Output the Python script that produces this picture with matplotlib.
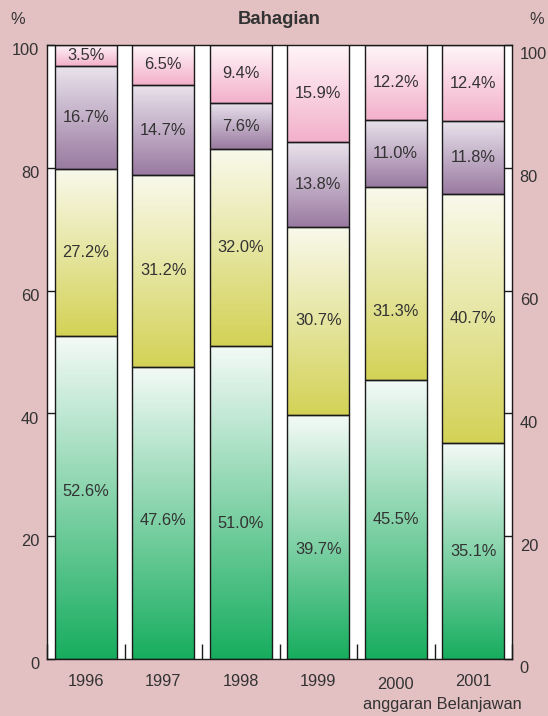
import numpy as np
import matplotlib
matplotlib.use("Agg")
import matplotlib.pyplot as plt
from matplotlib.colors import LinearSegmentedColormap
from matplotlib.transforms import ScaledTranslation

plt.rcParams['font.family'] = ['Liberation Sans', 'DejaVu Sans']

years = ["1996", "1997", "1998", "1999", "2000", "2001"]
# shares, bottom segment first
green = [52.6, 47.6, 51.0, 39.7, 45.5, 35.1]
yellow = [27.2, 31.2, 32.0, 30.7, 31.3, 40.7]
purple = [16.7, 14.7, 7.6, 13.8, 11.0, 11.8]
pink = [3.5, 6.5, 9.4, 15.9, 12.2, 12.4]

# nudges for a few labels that sit below the middle of their segment
label_nudge = {(1, 0): -1.3, (2, 0): -3.4, (3, 0): -2.0, (4, 1): -4.5, (0, 0): 0.9}

bg = "#E3C0C1"
txt = "#333333"
seg_colors = [("#17AD5E", "#F4FAF7"),
              ("#D3D256", "#F9F9EC"),
              ("#9A7AA1", "#E9E3EC"),
              ("#F3B0CA", "#FFF6F9")]

fig = plt.figure(figsize=(5.48, 7.16), dpi=100, facecolor=bg)
ax = fig.add_axes([47 / 548, 1 - 659 / 716, 465 / 548, 614 / 716])
ax.set_facecolor("white")

x = np.arange(len(years))
width = 0.8
series = [green, yellow, purple, pink]
grad = np.linspace(0, 1, 256).reshape(-1, 1)

bottom = np.zeros(len(years))
for k, vals in enumerate(series):
    vals = np.array(vals)
    cmap = LinearSegmentedColormap.from_list("c%d" % k, seg_colors[k])
    for i in range(len(years)):
        ax.imshow(grad, cmap=cmap, origin="lower", aspect="auto",
                  extent=(x[i] - width / 2, x[i] + width / 2, bottom[i], bottom[i] + vals[i]),
                  zorder=1, interpolation="bilinear")
        mid = bottom[i] + vals[i] / 2 + label_nudge.get((i, k), 0)
        ax.text(x[i], mid, "%.1f%%" % vals[i], ha="center", va="center",
                fontsize=11.8, color=txt, zorder=3)
    ax.bar(x, vals, width, bottom=bottom, facecolor="none", edgecolor="#1a1a1a",
           linewidth=1.0, zorder=2)
    bottom += vals

ax.set_xlim(-0.5, len(years) - 0.5)
ax.set_ylim(0, 100)

# ticks at group boundaries, labels placed by hand
ax.set_xticks(np.arange(len(years) + 1) - 0.5)
ax.set_xticklabels([])
ax.tick_params(axis="x", direction="in", length=11, width=1, color="#1a1a1a")
ax.set_yticks([0, 20, 40, 60, 80, 100])
ax.tick_params(axis="y", direction="in", length=5.5, width=1, color="#1a1a1a",
               left=True, right=True, labelleft=True, labelright=True,
               labelsize=11.8, labelcolor=txt, pad=5.5)
off = ScaledTranslation(0, -3 / 72, fig.dpi_scale_trans)
for lab in ax.get_yticklabels(which="both") + [t.label2 for t in ax.yaxis.get_major_ticks()]:
    lab.set_transform(lab.get_transform() + off)

for sp in ax.spines.values():
    sp.set_color("#1a1a1a")
    sp.set_linewidth(1.0)

xtr = ax.get_xaxis_transform()
for i, yr in enumerate(years):
    dy = -0.041 if yr == "2000" else -0.036
    ax.text(x[i], dy, yr, transform=xtr, ha="center", va="center",
            fontsize=11.8, color=txt)
fig.text(442 / 548, 1 - 705 / 716, "anggaran Belanjawan", ha="center", va="center",
         fontsize=11.8, color=txt)

fig.text(279 / 548, 1 - 20 / 716, "Bahagian", ha="center", va="center",
         fontsize=13.3, fontweight="bold", color=txt)
fig.text(18 / 548, 1 - 20 / 716, "%", ha="center", va="center", fontsize=11.8, color=txt)
fig.text(537 / 548, 1 - 20 / 716, "%", ha="center", va="center", fontsize=11.8, color=txt)

fig.savefig("out.png", dpi=100, facecolor=bg)
